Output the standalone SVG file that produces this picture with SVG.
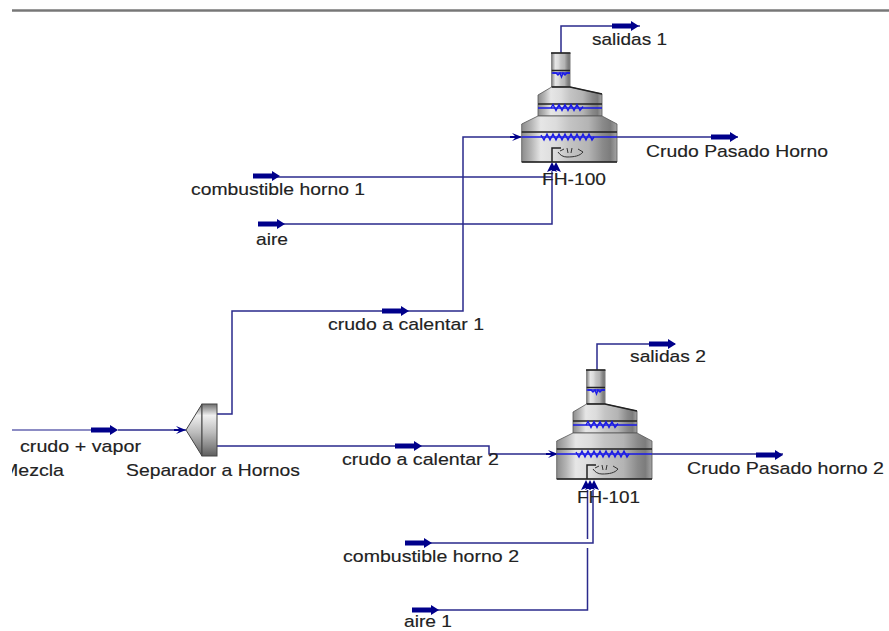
<svg xmlns="http://www.w3.org/2000/svg" width="889" height="631" viewBox="0 0 889 631">
<style>
.l{font-family:"Liberation Sans",Arial,sans-serif;font-size:17px;fill:#222;stroke:#222;stroke-width:.15}
.c{fill:none;stroke:#2a2a8c;stroke-width:1.5}
.coil{fill:none;stroke:#1a1ae6;stroke-width:1.4}
.row{stroke:#1a1ae6;stroke-width:1.6}
.dk{stroke:#222;stroke-width:1.5;fill:none}
.body{fill:url(#metal);stroke:#555;stroke-width:.8}
.a{fill:#00008b}
</style>
<defs>
<linearGradient id="metal" x1="0" x2="1" y1="0" y2="0">
<stop offset="0" stop-color="#8c8c8c"/><stop offset=".1" stop-color="#b5b5b5"/><stop offset=".2" stop-color="#e6e6e6"/><stop offset=".36" stop-color="#dcdcdc"/><stop offset=".5" stop-color="#c4c4c4"/><stop offset=".7" stop-color="#b4b4b4"/><stop offset=".85" stop-color="#8a8a8a"/><stop offset=".93" stop-color="#7c7c7c"/><stop offset="1" stop-color="#a5a5a5"/>
</linearGradient>
<linearGradient id="sep" x1="0" x2="0" y1="0" y2="1">
<stop offset="0" stop-color="#6e6e6e"/><stop offset=".22" stop-color="#f0f0f0"/><stop offset=".55" stop-color="#bcbcbc"/><stop offset=".8" stop-color="#8a8a8a"/><stop offset="1" stop-color="#5e5e5e"/>
</linearGradient>
<clipPath id="mclip"><rect x="12" y="455" width="80" height="30"/></clipPath>
<path id="arrow" class="a" d="M0-2.500H19V-5L27 0L19 5V2.500H0Z"/>
<path id="inarrow" class="a" d="M-10-4L0 0L-10 4L-7 1H-12V-1H-7Z"/>
<path id="up" class="a" d="M-5 10L0 0L5 10L0 8Z"/>
<g id="heater">
<path class="body" d="M551.700 53H570V87H551.700Z"/>
<path class="body" d="M551.700 87H570L602 94V116H538V95Z"/>
<path class="body" d="M538 116H602L617 124V162H521.700V124Z"/>
<path class="dk" d="M551 53H570.500M551.700 70.500H570M538 104H602M521.700 132H617M521.700 162H617M551.700 87H570L602 94"/>
<path class="row" d="M551.700 73H570M538 108H602M521.700 137H617"/>
<path class="coil" d="M553 73l3 0 2 2 2-2 1.500 4 1.500-4 2 2 2-2h3"/>
<path class="coil" d="M551 108l2-3.500 3 6 3-6 3 6 3-6 3 6 3-6 3 6 3-6 3 6 3-4"/>
<path class="coil" d="M541 135l3 5 3-6 3 6 3-6 3 6 3-6 3 6 3-6 3 6 3-6 3 6 3-6 3 6 3-6 3 6 3-6 3 6 2-3"/>
<path class="dk" stroke-width="1.800" d="M552 162V148H561"/>
<path fill="none" stroke="#333" stroke-width="1" d="M560 151l4-2M558 152c2 3 5 5 9 5 7 0 13-1 16-5l-5-3M567 148l1 5M572 148l-1 5"/>
</g>
</defs>
<rect width="889" height="631" fill="#fff"/>
<rect x="12" y="9" width="877" height="3" fill="#9a9a9a"/>
<rect x="12" y="10" width="877" height="1" fill="#777"/>

<g id="connectors">
<path class="c" style="stroke:#6666b0" d="M12 430H91"/>
<path class="c" d="M118 430H186"/>
<path class="c" d="M217 414H232V311H463V137H522"/>
<path class="c" d="M217 446H489V454H558"/>
<path class="c" d="M617 137H738"/>
<path class="c" d="M561 53V26H640"/>
<path class="c" d="M253 177H552"/>
<path class="c" d="M258 224H552V172"/>
<path class="c" d="M652 454H783"/>
<path class="c" d="M597 370V344H675"/>
<path class="c" d="M405 543H593V490"/>
<path class="c" d="M412 610H587.500V548M587.500 539V490"/>
<use href="#arrow" x="91" y="430"/>
<use href="#arrow" x="382" y="311"/>
<use href="#arrow" x="395" y="446"/>
<use href="#arrow" x="612" y="26"/>
<use href="#arrow" x="711" y="137"/>
<use href="#arrow" x="253" y="176"/>
<use href="#arrow" x="258" y="224"/>
<use href="#arrow" x="649" y="344"/>
<use href="#arrow" x="756" y="455"/>
<use href="#arrow" x="405" y="543"/>
<use href="#arrow" x="412" y="610"/>
<use href="#inarrow" x="522" y="137"/>
<use href="#inarrow" x="558" y="454"/>
<use href="#inarrow" x="186" y="430"/>
<use href="#up" x="552" y="162"/>
<use href="#up" x="556" y="162"/>
<use href="#up" x="586" y="480"/>
<use href="#up" x="590" y="480"/>
<use href="#up" x="594" y="480"/>
</g>

<g id="FH-100">
<use href="#heater"/>
<text class="l" x="542" y="185" textLength="64" lengthAdjust="spacingAndGlyphs">FH-100</text>
</g>
<g id="FH-101">
<use href="#heater" x="35" y="317"/>
<text class="l" x="577" y="503" textLength="63" lengthAdjust="spacingAndGlyphs">FH-101</text>
</g>
<g id="separador">
<path d="M186 430L202 404V456Z" fill="url(#sep)" stroke="#444"/>
<rect x="202" y="404" width="15" height="52" fill="url(#sep)" stroke="#444"/>
<text class="l" x="126" y="476" textLength="174" lengthAdjust="spacingAndGlyphs">Separador a Hornos</text>
</g>
<g id="labels">
<text class="l" x="592" y="45" textLength="75" lengthAdjust="spacingAndGlyphs">salidas 1</text>
<text class="l" x="646" y="157" textLength="182" lengthAdjust="spacingAndGlyphs">Crudo Pasado Horno</text>
<text class="l" x="191" y="195" textLength="174" lengthAdjust="spacingAndGlyphs">combustible horno 1</text>
<text class="l" x="256" y="245" textLength="32" lengthAdjust="spacingAndGlyphs">aire</text>
<text class="l" x="328" y="330" textLength="156" lengthAdjust="spacingAndGlyphs">crudo a calentar 1</text>
<text class="l" x="630" y="362" textLength="76" lengthAdjust="spacingAndGlyphs">salidas 2</text>
<text class="l" x="20" y="452" textLength="121" lengthAdjust="spacingAndGlyphs">crudo + vapor</text>
<g clip-path="url(#mclip)"><text class="l" x="2" y="476" textLength="62" lengthAdjust="spacingAndGlyphs">Mezcla</text></g>
<text class="l" x="342" y="465" textLength="157" lengthAdjust="spacingAndGlyphs">crudo a calentar 2</text>
<text class="l" x="687" y="474" textLength="197" lengthAdjust="spacingAndGlyphs">Crudo Pasado horno 2</text>
<text class="l" x="343" y="562" textLength="176" lengthAdjust="spacingAndGlyphs">combustible horno 2</text>
<text class="l" x="404" y="627" textLength="48" lengthAdjust="spacingAndGlyphs">aire 1</text>
</g>
</svg>
